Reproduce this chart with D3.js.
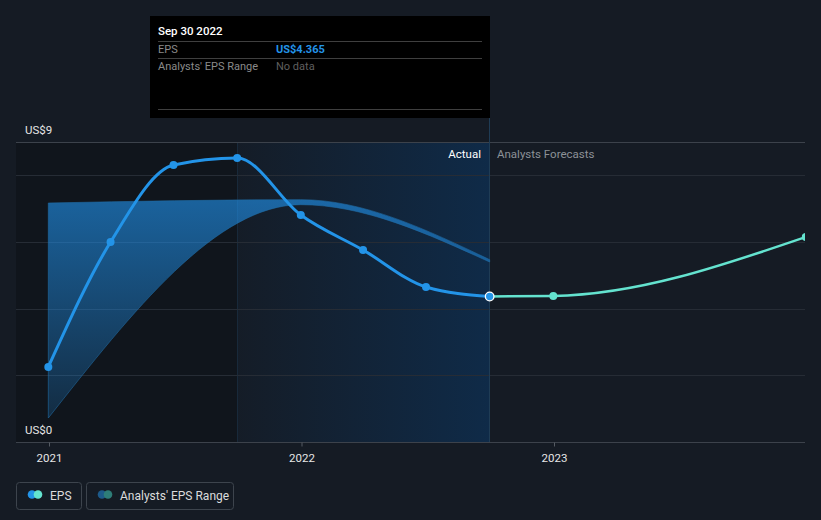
<!DOCTYPE html>
<html><head><meta charset="utf-8">
<script src="https://cdn.jsdelivr.net/npm/d3@7"></script>
<style>
html,body{margin:0;padding:0;background:#151b24;}
svg{display:block;font-family:Roboto,"Noto Sans",sans-serif;}
</style></head>
<body><svg id="c" width="821" height="520"></svg>
<script>
// ---- data ----
const epsDates = ["2020-12-31","2021-03-31","2021-06-30","2021-09-30","2021-12-31","2022-03-31","2022-06-30","2022-09-30"];
const epsValues = [2.25, 6.0, 8.31, 8.52, 6.81, 5.76, 4.65, 4.365];
const forecastDates = ["2022-09-30","2022-12-31","2023-12-31"];
const forecastValues = [4.365, 4.38, 6.15];
const rangeDates = ["2020-12-31","2021-12-31","2022-09-30"];
const rangeLow = [0.72, 7.12, 5.40];
const rangeHigh = [7.17, 7.27, 5.47];
const yTickValues = [0, 2, 4, 6, 8, 9];
const yLabelValues = [0, 9];
const xTickYears = ["2021-01-01","2022-01-01","2023-01-01"];
const legendItems = ["EPS", "Analysts' EPS Range"];
const tooltipTitle = "Sep 30 2022";
const tooltipRows = [["EPS","US$4.365"],["Analysts' EPS Range","No data"]];

const parse = d3.timeParse("%Y-%m-%d");
const svg = d3.select("#c");
const L = 16, R = 805, T = 142, B = 442;

const x = d3.scaleTime().domain([parse("2021-01-01"), parse("2023-01-01")]).range([49, 554]);
const y = d3.scaleLinear().domain([0, 9]).range([B, T]);

const defs = svg.append("defs");
defs.append("clipPath").attr("id","clip").append("rect").attr("x",L).attr("y",0).attr("width",R-L).attr("height",B);
const hg = defs.append("linearGradient").attr("id","hl").attr("x1",0).attr("x2",1).attr("y1",0).attr("y2",0);
hg.append("stop").attr("offset",0).attr("stop-color","#0b3560").attr("stop-opacity",0.05);
hg.append("stop").attr("offset",1).attr("stop-color","#0b3560").attr("stop-opacity",0.6);
const ag = defs.append("linearGradient").attr("id","ar").attr("x1",0).attr("x2",0).attr("y1",0).attr("y2",1);
ag.append("stop").attr("offset",0).attr("stop-color","#2196f3").attr("stop-opacity",0.6);
ag.append("stop").attr("offset",1).attr("stop-color","#2196f3").attr("stop-opacity",0.18);

const xSplit = Math.floor(x(parse("2021-09-30")));
const xNow = Math.floor(x(parse("2022-09-30")));

// dark past region
svg.append("rect").attr("x",L).attr("y",T).attr("width",xSplit-L).attr("height",B-T).attr("fill","#0c0f15").attr("opacity",0.45);
// highlight region
svg.append("rect").attr("x",xSplit).attr("y",T).attr("width",xNow-xSplit).attr("height",B-T).attr("fill","url(#hl)");
svg.append("line").attr("x1",xSplit+0.5).attr("x2",xSplit+0.5).attr("y1",T).attr("y2",B).attr("stroke","#18293a").attr("stroke-width",1);

// gridlines
svg.append("g").selectAll("line").data(yTickValues).join("line")
  .attr("x1",L).attr("x2",R).attr("y1",d=>Math.round(y(d))+0.5).attr("y2",d=>Math.round(y(d))+0.5)
  .attr("stroke",d=> (d===9||d===0) ? "#3c424b" : "#262c35").attr("stroke-width",1);

// x axis
const xa = svg.append("g").attr("transform",`translate(0,${B+0.5})`)
  .call(d3.axisBottom(x).tickValues(xTickYears.map(parse)).tickFormat(d3.timeFormat("%Y")).tickSize(4).tickPadding(7));
xa.select(".domain").remove();
xa.selectAll(".tick line").attr("stroke","#555b63");
xa.selectAll(".tick text").attr("fill","#e6e6e6").attr("font-size",11.5).attr("font-family","Roboto");

// y labels
svg.append("g").selectAll("text").data(yLabelValues).join("text")
  .attr("x",25).attr("y",d=>y(d)-8).attr("fill","#e6e6e6").attr("font-size",11.5).text(d=>"US$"+d);

// now line
svg.append("line").attr("x1",xNow+0.5).attr("x2",xNow+0.5).attr("y1",118).attr("y2",B).attr("stroke","#1f3c55").attr("stroke-width",1);

const plot = svg.append("g").attr("clip-path","url(#clip)");

// range area
const rangeData = rangeDates.map((d,i)=>({t:parse(d), lo:rangeLow[i], hi:rangeHigh[i]}));
plot.append("path").datum(rangeData)
  .attr("d", d3.area().x(d=>x(d.t)).y0(d=>y(d.lo)).y1(d=>y(d.hi)).curve(d3.curveMonotoneX))
  .attr("fill","url(#ar)").attr("stroke","#1f6aa3").attr("stroke-width",1).attr("stroke-opacity",0.6);

// eps line
const eps = epsDates.map((d,i)=>({t:parse(d), v:epsValues[i]}));
const fc = forecastDates.map((d,i)=>({t:parse(d), v:forecastValues[i]}));
const line = d3.line().x(d=>x(d.t)).y(d=>y(d.v)).curve(d3.curveMonotoneX);
plot.append("path").datum(fc).attr("d",line).attr("fill","none").attr("stroke","#64e3cf").attr("stroke-width",2.5);
plot.append("path").datum(eps).attr("d",line).attr("fill","none").attr("stroke","#2394e8").attr("stroke-width",3);
plot.selectAll("circle.f").data(fc.slice(1)).join("circle").attr("class","f")
  .attr("cx",d=>x(d.t)).attr("cy",d=>y(d.v)).attr("r",4).attr("fill","#64e3cf");
plot.selectAll("circle.e").data(eps.slice(0,-1)).join("circle").attr("class","e")
  .attr("cx",d=>x(d.t)).attr("cy",d=>y(d.v)).attr("r",4).attr("fill","#2394e8");
const last = eps[eps.length-1];
plot.append("circle").attr("cx",x(last.t)).attr("cy",y(last.v)).attr("r",4.3).attr("fill","#2394e8").attr("stroke","#ffffff").attr("stroke-width",1.3);

// Actual / Forecast labels
svg.append("text").attr("x",xNow-8).attr("y",158).attr("text-anchor","end").attr("fill","#ffffff").attr("font-size",11.5).text("Actual");
svg.append("text").attr("x",xNow+8).attr("y",158).attr("fill","#8c9197").attr("font-size",11.5).text("Analysts Forecasts");

// tooltip
const tt = svg.append("g");
tt.append("rect").attr("x",150).attr("y",16).attr("width",340).attr("height",102).attr("fill","#000000");
tt.append("text").attr("x",158).attr("y",35).attr("fill","#ffffff").attr("font-size",11.5).attr("font-weight",500).text(tooltipTitle);
[41.5,58.5,109.5].forEach(yy=>tt.append("line").attr("x1",158).attr("x2",482).attr("y1",yy).attr("y2",yy).attr("stroke","#3f3f3f"));
tooltipRows.forEach((r,i)=>{
  const yy = 53 + i*17;
  tt.append("text").attr("x",158).attr("y",yy).attr("fill","#8a8a8a").attr("font-size",11).text(r[0]);
  tt.append("text").attr("x",276).attr("y",yy).attr("font-size",11)
    .attr("fill", i===0 ? "#2394e8" : "#5f5f5f").attr("font-weight", i===0 ? "bold" : "normal").text(r[1]);
});

// legend
const leg = [{x:16,w:65,c1:"#2394e8",c2:"#64e3cf"},{x:86,w:147,c1:"#1d5a8a",c2:"#2e7d78"}];
leg.forEach((l,i)=>{
  const g = svg.append("g");
  g.append("rect").attr("x",l.x+0.5).attr("y",482.5).attr("width",l.w).attr("height",27).attr("rx",3)
    .attr("fill","none").attr("stroke","#3d444d");
  g.append("circle").attr("cx",l.x+16).attr("cy",494.5).attr("r",4.3).attr("fill",l.c1);
  g.append("circle").attr("cx",l.x+22).attr("cy",494.5).attr("r",4.3).attr("fill",l.c2);
  g.append("text").attr("x",l.x+34).attr("y",499.5).attr("fill","#dcdcdc").attr("font-size",12).text(legendItems[i]);
});
</script></body></html>
